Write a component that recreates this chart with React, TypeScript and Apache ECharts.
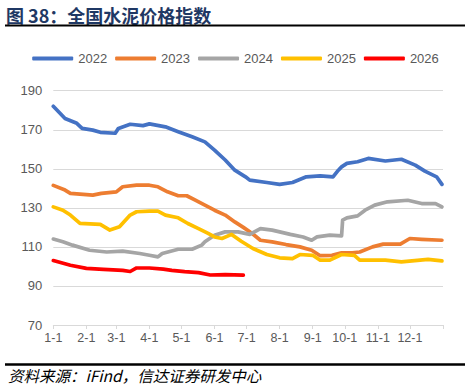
import React, { useEffect, useRef } from "react";
import * as echarts from "echarts";

const monthLengths = [31, 28, 31, 30, 31, 30, 31, 31, 30, 31, 30, 31];
const yTicks = { min: 70, max: 190, interval: 20 };
const seriesNames = ["2022", "2023", "2024", "2025", "2026"];
const seriesColors = ["#4472C4", "#ED7D31", "#A5A5A5", "#FFC000", "#FF0000"];

// day-of-year index (0 = 1-1) and index values
const days2022 = [0, 11, 22, 27, 37, 44, 58, 61, 72, 84, 90, 105, 117, 130, 142, 151, 161, 170, 180, 184, 200, 212, 224, 237, 250, 262, 267, 270, 275, 285, 295, 311, 326, 339, 348, 359, 364];
const vals2022 = [182, 175.8, 173.3, 170.7, 169.8, 168.7, 168.2, 170.7, 172.8, 172.1, 173, 171.5, 169, 166.4, 163.8, 159.6, 154.5, 149.3, 145.9, 144.2, 143, 142, 143, 145.9, 146.4, 145.9, 149.3, 151, 152.8, 153.6, 155.3, 154, 154.9, 151.9, 148.8, 145.9, 142];

const days2023 = [0, 11, 16, 28, 37, 45, 59, 65, 78, 90, 98, 107, 117, 125, 133, 142, 151, 161, 170, 178, 186, 194, 205, 218, 231, 242, 250, 261, 270, 280, 287, 299, 309, 325, 334, 345, 364];
const vals2023 = [141.5, 139.1, 137.4, 136.9, 136.5, 137.4, 138.2, 140.8, 141.6, 141.6, 140.8, 138.2, 136.2, 136.2, 133.9, 131.4, 128.8, 126.3, 122.8, 120, 117, 113.4, 112.6, 111.2, 110, 108.3, 105.5, 105.7, 107, 107, 107.4, 110, 111.4, 111.4, 114.3, 113.9, 113.4];

const days2024 = [0, 9, 18, 34, 50, 65, 81, 90, 98, 102, 117, 130, 139, 142, 151, 161, 173, 184, 194, 205, 222, 234, 242, 247, 259, 270, 271, 275, 285, 292, 301, 313, 332, 345, 358, 364];
const vals2024 = [114, 112.6, 110.9, 108.3, 107.4, 107.8, 106.6, 105.7, 104.9, 106.6, 108.8, 108.8, 110.9, 112.6, 116, 117.7, 117.7, 116.4, 119.4, 118.6, 116.4, 115.1, 113.4, 115.1, 116, 115.6, 123.7, 124.9, 125.9, 128.8, 131.4, 133.1, 133.9, 132.2, 132.2, 130.5];

const days2025 = [0, 9, 16, 25, 44, 53, 62, 72, 78, 90, 98, 105, 117, 126, 136, 145, 151, 158, 167, 176, 187, 200, 212, 224, 231, 243, 250, 259, 270, 282, 287, 311, 326, 351, 364];
const vals2025 = [130.5, 128.8, 126.3, 122, 121.5, 118.6, 120.3, 126.3, 128, 128.3, 128.3, 126.3, 124.9, 122, 119.4, 116.9, 115.1, 114.3, 116.4, 112.9, 109.2, 106.1, 104.4, 104, 106.1, 105.7, 103.2, 103.2, 106.1, 105.7, 103.2, 103.2, 102.3, 103.6, 102.8];

const days2026 = [0, 16, 31, 47, 65, 72, 78, 90, 103, 111, 123, 136, 147, 161, 178];
const vals2026 = [103, 100.6, 99, 98.5, 98, 97.4, 99.2, 99.2, 98.6, 98, 97.3, 96.8, 95.6, 95.8, 95.5];

const seriesDays = [days2022, days2023, days2024, days2025, days2026];
const seriesVals = [vals2022, vals2023, vals2024, vals2025, vals2026];

const titleText = "图 38：全国水泥价格指数";
const sourceText = "资料来源：iFind，信达证券研发中心";

export default function App() {
  const ref = useRef<HTMLDivElement>(null);
  useEffect(() => {
    if (!ref.current) return;
    const chart = echarts.init(ref.current, undefined, { renderer: "svg" });
    const dayLabels: string[] = [];
    monthLengths.forEach((n, mi) => {
      for (let d = 1; d <= n; d++) dayLabels.push(`${mi + 1}-${d}`);
    });
    dayLabels.push("1-1");
    const isMonthStart = (v: string) => v.split("-")[1] === "1";
    const labelFont = "Liberation Sans";
    chart.setOption({
      animation: false,
      backgroundColor: "#fff",
      graphic: [
        {
          type: "text",
          x: 6,
          y: 14.5,
          style: {
            text: titleText,
            fontSize: 18,
            fontWeight: "bold",
            fontFamily: "Noto Sans CJK SC",
            fill: "#1F3864",
            verticalAlign: "middle",
          },
        },
        {
          type: "line",
          shape: { x1: 5, y1: 25.5, x2: 465, y2: 25.5 },
          style: { stroke: "#000", lineWidth: 2 },
        },
        {
          type: "line",
          shape: { x1: 5, y1: 364.5, x2: 465, y2: 364.5 },
          style: { stroke: "#000", lineWidth: 2.5 },
        },
        {
          type: "text",
          x: 8,
          y: 374.5,
          style: {
            text: sourceText,
            fontSize: 15.5,
            fontStyle: "italic",
            fontFamily: "Noto Sans CJK SC",
            fill: "#000",
            verticalAlign: "middle",
          },
        },
      ],
      legend: {
        data: seriesNames,
        left: "center",
        top: 47,
        icon: "roundRect",
        itemWidth: 41,
        itemHeight: 4,
        itemGap: 8,
        textStyle: { color: "#595959", fontSize: 13, fontFamily: labelFont },
      },
      grid: { left: 53.3, right: 28, top: 90.7, bottom: 65, containLabel: false },
      xAxis: {
        type: "category",
        data: dayLabels,
        boundaryGap: false,
        axisLine: { show: true, lineStyle: { color: "#D9D9D9", width: 1 } },
        axisTick: {
          show: true,
          length: 4,
          interval: (_i: number, v: string) => isMonthStart(v),
          lineStyle: { color: "#D9D9D9" },
        },
        axisLabel: {
          interval: (i: number, v: string) => i < 365 && isMonthStart(v),
          color: "#595959",
          fontSize: 12.5,
          fontFamily: labelFont,
          margin: 6,
        },
        splitLine: { show: false },
      },
      yAxis: {
        type: "value",
        min: yTicks.min,
        max: yTicks.max,
        interval: yTicks.interval,
        axisLine: { show: false },
        axisTick: { show: false },
        axisLabel: { color: "#595959", fontSize: 13, fontFamily: labelFont, margin: 11 },
        splitLine: { lineStyle: { color: "#D9D9D9", width: 1 } },
      },
      series: seriesNames.map((name, si) => ({
        name,
        type: "line",
        showSymbol: false,
        symbol: "none",
        color: seriesColors[si],
        lineStyle: { width: 3.7, color: seriesColors[si], cap: "round", join: "round" },
        data: seriesDays[si].map((d, i) => [d, seriesVals[si][i]]),
      })),
    });
    return () => chart.dispose();
  }, []);
  return (
    <div
      ref={ref}
      style={{ position: "fixed", left: 0, top: 0, width: 471, height: 390 }}
    />
  );
}
